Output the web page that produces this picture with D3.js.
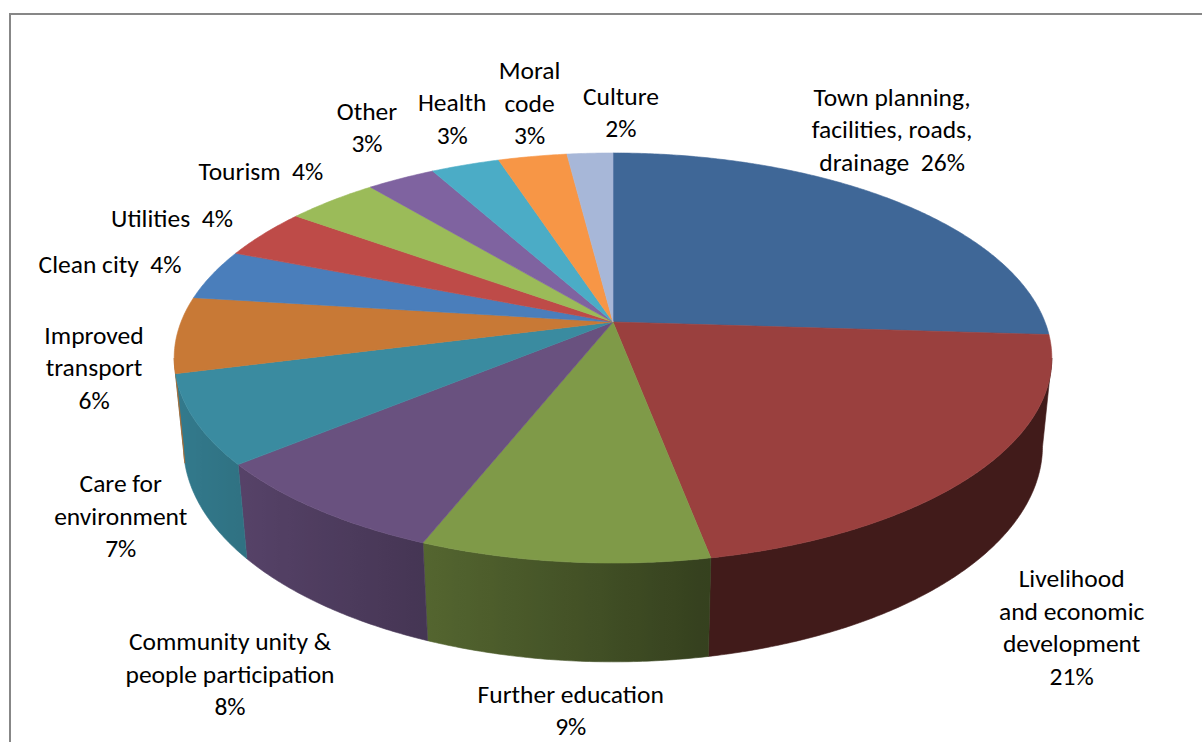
<!DOCTYPE html>
<html>
<head>
<meta charset="utf-8">
<script src="https://cdn.jsdelivr.net/npm/d3@7"></script>
<style>
  body { margin: 0; background: #fff; }
  svg { display: block; }
  text { font-family: Carlito, Calibri, Lato, sans-serif; fill: #000; white-space: pre; }
</style>
</head>
<body>
<svg id="chart" width="1202" height="742"></svg>
<script>
// Priorities named by residents, share of responses (%)
const categories = [
  "Town planning,\nfacilities, roads,\ndrainage",
  "Livelihood\nand economic\ndevelopment",
  "Further education",
  "Community unity &\npeople participation",
  "Care for\nenvironment",
  "Improved\ntransport",
  "Clean city",
  "Utilities",
  "Tourism",
  "Other",
  "Health",
  "Moral\ncode",
  "Culture"
];
const shares = [26, 21, 9, 8, 7, 6, 4, 4, 4, 3, 3, 3, 2];
// whether the percentage sits on the last name line or on its own line
const pctInline = [true, false, false, false, false, false, true, true, true, false, false, false, false];
const sliceColors = [
  "#3f6797", "#9a403e", "#7f9a48", "#69517f", "#3a8ba0", "#c87936",
  "#4a7ebb", "#be4b48", "#9bbb59", "#7f63a0", "#4bacc6", "#f79646", "#a7b7d8"
];
// label placement relative to each slice's rim point (px)
const labelNudge = [
  [-2, -71], [92, 157], [7, 149], [-87, 165], [-74, 96], [-83, 33], [-102, -10],
  [-92, -15], [-71, -29], [-34, -51], [-13, -46], [-3, -53], [31, -41]
];

const svg = d3.select("#chart");
const defs = svg.append("defs");

// chart area frame
svg.append("rect")
  .attr("x", 10).attr("y", 14).attr("width", 1400).attr("height", 1000)
  .attr("fill", "none").attr("stroke", "#878787").attr("stroke-width", 2);

// perspective view of a tilted disc
const cx = 613, cy = 322;     // screen position of the disc centre
const A = 432;                // horizontal scale of the rim
const S = 198.7;              // depth-to-screen scale (tilt)
const C = 383.6;              // height-to-screen scale
const k = 0.1756;             // perspective strength
const kt = 0.091;             // perspective change with height
const thick = 0.231;          // disc thickness (radius units)

function project(theta, r, H) {
  const c = Math.cos(theta), s = Math.sin(theta);
  const depth = 1 + k * r * c - kt * H;
  return [cx + A * r * s / depth, cy + (-S * r * c - C * H) / depth];
}

const pie = d3.pie().sort(null).value(d => d).startAngle(0).endAngle(2 * Math.PI);
const arcs = pie(shares);
const line = d3.line();
const step = Math.PI / 360;

function arcPoints(a0, a1, r, H) {
  const n = Math.max(2, Math.ceil((a1 - a0) / step));
  return d3.range(n + 1).map(i => project(a0 + (a1 - a0) * i / n, r, H));
}

// front wall visible where the outward normal faces the camera
const visFrom = Math.acos(-k), visTo = 2 * Math.PI - Math.acos(-k);
const lightAt = 260 * Math.PI / 180;
function shade(color, theta) {
  const f = 0.42 + 0.46 * Math.max(0, Math.cos(theta - lightAt));
  const c = d3.rgb(color);
  return d3.rgb(c.r * f, c.g * f, c.b * f).formatHex();
}

// side walls, lit from the left
const walls = svg.append("g");
arcs.forEach((a, i) => {
  const a0 = Math.max(a.startAngle, visFrom), a1 = Math.min(a.endAngle, visTo);
  if (a1 <= a0) return;
  const top = arcPoints(a0, a1, 1, 0);
  const bot = arcPoints(a0, a1, 1, -thick).reverse();
  const xs = top.map(p => p[0]);
  const x0 = d3.min(xs), x1 = d3.max(xs);
  const id = "wall" + i;
  const g = defs.append("linearGradient").attr("id", id)
    .attr("gradientUnits", "userSpaceOnUse")
    .attr("x1", x0).attr("x2", x1).attr("y1", 0).attr("y2", 0);
  const n = 24;
  const stops = d3.range(n + 1).map(j => {
    const t = a0 + (a1 - a0) * j / n;
    return { x: project(t, 1, 0)[0], col: shade(sliceColors[i], t) };
  }).sort((p, q) => p.x - q.x);
  stops.forEach(s => {
    g.append("stop")
      .attr("offset", x1 > x0 ? (s.x - x0) / (x1 - x0) : 0)
      .attr("stop-color", s.col);
  });
  walls.append("path")
    .attr("d", line(top.concat(bot)) + "Z")
    .attr("fill", `url(#${id})`)
    .attr("stroke", `url(#${id})`).attr("stroke-width", 0.6);
});

// top faces
svg.append("g").selectAll("path")
  .data(arcs)
  .join("path")
  .attr("d", a => line([[cx, cy]].concat(arcPoints(a.startAngle, a.endAngle, 1, 0))) + "Z")
  .attr("fill", (a, i) => sliceColors[i])
  .attr("stroke", (a, i) => sliceColors[i])
  .attr("stroke-width", 0.6)
  .attr("stroke-linejoin", "round");

// data labels
const fontSize = 25.5, lineH = 32.5;
const labels = svg.append("g").attr("font-size", fontSize).attr("text-anchor", "middle");
arcs.forEach((a, i) => {
  const mid = (a.startAngle + a.endAngle) / 2;
  const [ax, ay] = project(mid, 1, 0);
  const x = ax + labelNudge[i][0], y = ay + labelNudge[i][1];
  const pct = shares[i] + "%";
  const lines = (categories[i] + (pctInline[i] ? "  " : "\n") + pct).split("\n");
  const t = labels.append("text").attr("x", x);
  lines.forEach((ln, j) => {
    t.append("tspan")
      .attr("x", x)
      .attr("y", y + (j - (lines.length - 1) / 2) * lineH + 8.5)
      .text(ln);
  });
});
</script>
</body>
</html>
